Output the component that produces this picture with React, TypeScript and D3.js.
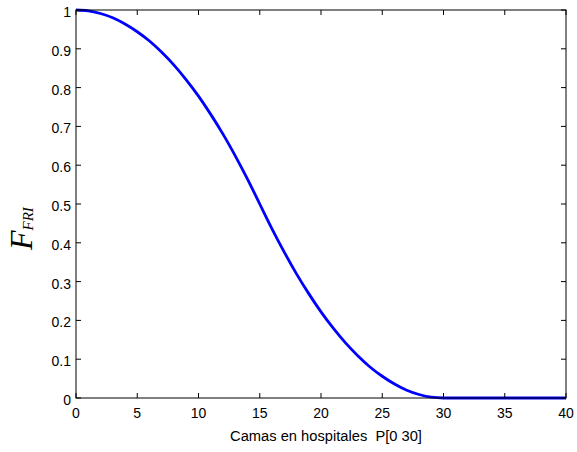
import React from "react";
import * as d3 from "d3";

// Membership curve: hospital beds P[0 30]
const bedsX = [0, 1, 2, 3, 4, 5, 6, 7, 8, 9, 10, 11, 12, 13, 14, 15, 16, 17, 18, 19, 20, 21, 22, 23, 24, 25, 26, 27, 28, 29, 30, 35, 40];
const membership = [1.0, 0.998, 0.991, 0.98, 0.964, 0.944, 0.92, 0.891, 0.858, 0.82, 0.778, 0.731, 0.68, 0.624, 0.564, 0.5, 0.436, 0.376, 0.32, 0.269, 0.222, 0.18, 0.142, 0.109, 0.08, 0.056, 0.036, 0.02, 0.009, 0.002, 0, 0, 0];

const xTicks = [0, 5, 10, 15, 20, 25, 30, 35, 40];
const yTicks = [0, 0.1, 0.2, 0.3, 0.4, 0.5, 0.6, 0.7, 0.8, 0.9, 1];

const W = 577;
const H = 452;
const left = 76;
const right = 566;
const top = 10;
const bottom = 398;
const TICK = 5;

export default function App() {
  const x = d3.scaleLinear().domain([0, 40]).range([left, right]);
  const y = d3.scaleLinear().domain([0, 1]).range([bottom, top]);
  const pts = bedsX.map((v, i) => [v, membership[i]] as [number, number]);
  const line = d3
    .line<[number, number]>()
    .x((d) => x(d[0]))
    .y((d) => y(d[1]))
    .curve(d3.curveMonotoneX);

  const font = "'Liberation Sans', Arial, sans-serif";

  return (
    <svg
      width={W}
      height={H}
      style={{ position: "absolute", left: 0, top: 0, background: "#fff" }}
    >
      <rect x={0} y={0} width={W} height={H} fill="#fff" />
      <path d={line(pts) || ""} fill="none" stroke="#0000ff" strokeWidth={2.8} strokeLinejoin="round" />
      <rect x={left} y={top} width={right - left} height={bottom - top} fill="none" stroke="#000" strokeWidth={1} />
      {xTicks.map((t) => (
        <g key={"x" + t}>
          <line x1={x(t)} x2={x(t)} y1={bottom} y2={bottom - TICK} stroke="#000" />
          <line x1={x(t)} x2={x(t)} y1={top} y2={top + TICK} stroke="#000" />
          <text x={x(t)} y={418} textAnchor="middle" fontFamily={font} fontSize={14} fill="#000">
            {t}
          </text>
        </g>
      ))}
      {yTicks.map((t) => (
        <g key={"y" + t}>
          <line x1={left} x2={left + TICK} y1={y(t)} y2={y(t)} stroke="#000" />
          <line x1={right} x2={right - TICK} y1={y(t)} y2={y(t)} stroke="#000" />
          <text x={71} y={y(t) + 7} textAnchor="end" fontFamily={font} fontSize={14} fill="#000">
            {String(t)}
          </text>
        </g>
      ))}
      <text
        x={326}
        y={441}
        textAnchor="middle"
        fontFamily={font}
        fontSize={14.7}
        fill="#000"
        style={{ whiteSpace: "pre" }}
      >
        {"Camas en hospitales  P[0 30]"}
      </text>
      <g transform="translate(32,250) rotate(-90)">
        <text x={0} y={0} fontFamily="'Liberation Serif', 'Times New Roman', serif" fontStyle="italic" fontSize={32} fill="#000">
          F
          <tspan fontSize={15} dy={1}>
            FRI
          </tspan>
        </text>
      </g>
    </svg>
  );
}
